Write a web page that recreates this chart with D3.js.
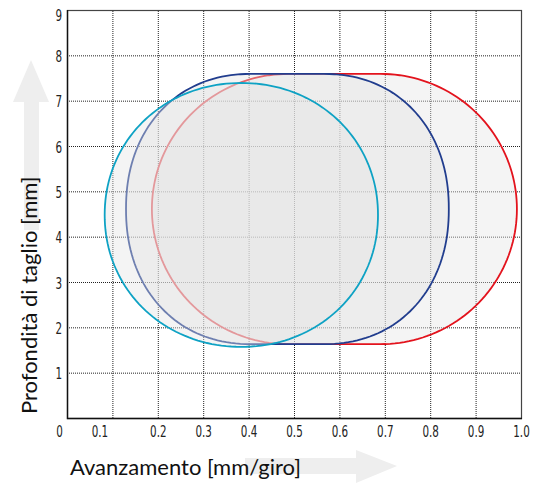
<!DOCTYPE html>
<html>
<head>
<meta charset="utf-8">
<script src="https://cdn.jsdelivr.net/npm/d3@7"></script>
<style>
body { margin: 0; background: #fff; }
.tick text { font-family: "Liberation Sans Narrow", "DejaVu Sans Condensed", sans-serif; font-size: 16px; fill: #222; }
.title { font-family: Lato, "Open Sans", sans-serif; font-size: 22px; fill: #111; }
</style>
</head>
<body>
<div id="chart"></div>
<script>
// tick values
var xTicks = [0, 0.1, 0.2, 0.3, 0.4, 0.5, 0.6, 0.7, 0.8, 0.9, 1.0];
var yTicks = [1, 2, 3, 4, 5, 6, 7, 8, 9];

// cutting zones (x in mm/giro, y in mm), drawn back to front
var zoneNames = ["rosso", "blu", "azzurro"];
var zoneLeftX = [0.487, 0.405, 0.384];   // centre of left rounded end
var zoneRightX = [0.691, 0.566, 0.384];  // centre of right rounded end
var zoneCenterY = [4.61, 4.61, 4.48];
var zoneRadiusX = [0.30, 0.275, 0.301];
var zoneRadiusY = [2.98, 2.98, 2.91];
var zoneRoundness = [2, 2.15, 2.05];     // 2 = plain ellipse

Chart = function(_parentElement){
    this.parentElement = _parentElement;
    this.initVis();
};

Chart.prototype.initVis = function(){
    var vis = this;
    vis.margin = { left: 67, right: 17, top: 10, bottom: 65 };
    vis.width = 538 - vis.margin.left - vis.margin.right;
    vis.height = 483 - vis.margin.top - vis.margin.bottom;

    vis.svg = d3.select(vis.parentElement)
        .append("svg")
        .attr("width", 538)
        .attr("height", 483);

    // big grey arrows behind the axis titles
    vis.svg.append("path")
        .attr("d", "M24,230 L24,102 L13,102 L31,60 L49,102 L39,102 L39,230 Z")
        .attr("fill", "#eeeeee");
    vis.svg.append("path")
        .attr("d", "M245,458 L356,458 L356,450 L397,466 L356,483 L356,474 L245,474 Z")
        .attr("fill", "#eeeeee");

    vis.g = vis.svg.append("g")
        .attr("transform", "translate(" + vis.margin.left + ", " + vis.margin.top + ")");

    vis.x = d3.scaleLinear().domain([0, 1]).range([0, vis.width]);
    vis.y = d3.scaleLinear().domain([0, 9]).range([vis.height, 0]);

    // dotted grid
    var gx = vis.g.append("g")
        .attr("transform", "translate(0," + vis.height + ")")
        .call(d3.axisBottom(vis.x).tickValues(xTicks.slice(1, -1)).tickSize(-vis.height).tickFormat(""));
    var gy = vis.g.append("g")
        .call(d3.axisLeft(vis.y).tickValues(yTicks.slice(0, -1)).tickSize(-vis.width).tickFormat(""));
    [gx, gy].forEach(function(a){
        a.select(".domain").remove();
        a.selectAll("line").attr("stroke", "#222").attr("stroke-dasharray", "1,1");
    });

    // zones
    var colors = ["#e3131d", "#213d8e", "#0ea2c4"];
    var line = d3.line()
        .x(function(d){ return vis.x(d[0]); })
        .y(function(d){ return vis.y(d[1]); });

    zoneNames.forEach(function(name, i){
        vis.g.append("path")
            .datum(zoneOutline(i))
            .attr("class", "zone " + name)
            .attr("d", function(d){ return line(d) + "Z"; })
            .attr("fill", "#e4e4e4")
            .attr("fill-opacity", 0.4)
            .attr("stroke", colors[i])
            .attr("stroke-width", 1.8);
    });

    // frame
    vis.g.append("rect")
        .attr("x", 0.5).attr("y", 0.5)
        .attr("width", vis.width).attr("height", vis.height)
        .attr("fill", "none").attr("stroke", "#444").attr("stroke-width", 1.2);
    vis.g.append("path")
        .attr("d", "M0.5,0 V" + (vis.height + 0.5) + " H" + (vis.width + 1))
        .attr("fill", "none").attr("stroke", "#111").attr("stroke-width", 1.4);

    // tick labels (condensed look)
    var xa = vis.g.append("g")
        .attr("transform", "translate(0," + vis.height + ")")
        .call(d3.axisBottom(vis.x).tickValues(xTicks).tickSize(0).tickPadding(8)
            .tickFormat(function(d){ return d === 0 ? "0" : d3.format(".1f")(d); }));
    xa.select(".domain").remove();
    xa.selectAll(".tick text")
        .attr("transform", function(d){
            var dx = d === 0 ? -8 : (d === 0.1 ? -13 : 0);
            return "translate(" + dx + ",0) scale(0.72,1)";
        });

    var ya = vis.g.append("g")
        .call(d3.axisLeft(vis.y).tickValues(yTicks).tickSize(0));
    ya.select(".domain").remove();
    ya.selectAll(".tick text")
        .attr("x", 0)
        .attr("y", function(d){ return d === 9 ? 5 : 1; })
        .attr("transform", "translate(-5,0) scale(0.72,1)");

    // axis titles
    vis.svg.append("text")
        .attr("class", "title")
        .attr("x", 70).attr("y", 475)
        .text("Avanzamento [mm/giro]");
    vis.svg.append("text")
        .attr("class", "title")
        .attr("transform", "translate(37,414) rotate(-90)")
        .text("Profondità di taglio [mm]");
};

// outline of a rounded zone: two rounded ends joined by straight top and bottom
function zoneOutline(i){
    var pts = [], steps = 90, e = 2 / zoneRoundness[i], k, t;
    function pw(v){ return (v < 0 ? -1 : 1) * Math.pow(Math.abs(v), e); }
    for (k = 0; k <= steps; k++){
        t = -Math.PI / 2 + Math.PI * k / steps;
        pts.push([zoneRightX[i] + zoneRadiusX[i] * pw(Math.cos(t)), zoneCenterY[i] + zoneRadiusY[i] * pw(Math.sin(t))]);
    }
    for (k = 0; k <= steps; k++){
        t = Math.PI / 2 + Math.PI * k / steps;
        pts.push([zoneLeftX[i] + zoneRadiusX[i] * pw(Math.cos(t)), zoneCenterY[i] + zoneRadiusY[i] * pw(Math.sin(t))]);
    }
    return pts;
}

new Chart("#chart");
</script>
</body>
</html>
